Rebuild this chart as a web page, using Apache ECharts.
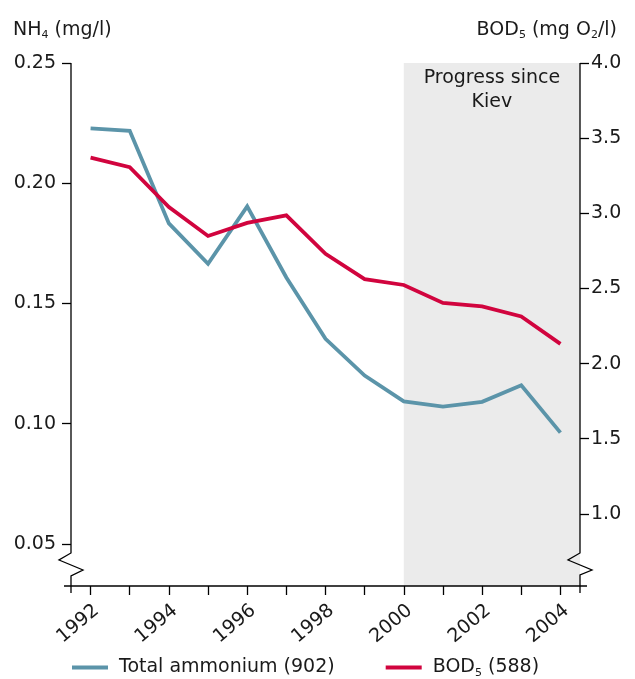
<!DOCTYPE html>
<html>
<head>
<meta charset="utf-8">
<style>
  html, body { margin: 0; padding: 0; background: #ffffff; }
  #chart { width: 635px; height: 679px; }
</style>
<script src="https://cdn.jsdelivr.net/npm/echarts@6/dist/echarts.min.js"></script>
</head>
<body>
<div id="chart"></div>
<script>
// Years observed
const years = [1992, 1993, 1994, 1995, 1996, 1997, 1998, 1999, 2000, 2001, 2002, 2003, 2004];
// Total ammonium, mg NH4/l (left axis)
const ammonium = [0.2228, 0.2218, 0.1833, 0.1665, 0.1904, 0.1608, 0.1353, 0.1200, 0.1093, 0.1071, 0.1091, 0.1160, 0.0963];
// BOD5, mg O2/l (right axis)
const bod5 = [3.370, 3.307, 3.041, 2.849, 2.936, 2.986, 2.730, 2.562, 2.523, 2.403, 2.380, 2.313, 2.131];
// Tick labels
const yearLabels = [1992, 1994, 1996, 1998, 2000, 2002, 2004];
const leftTicks = [0.05, 0.10, 0.15, 0.20, 0.25];
const rightTicks = [1.0, 1.5, 2.0, 2.5, 3.0, 3.5, 4.0];
const shadeStart = 2000;

const FONT = 'DejaVu Sans';
const FS = 19;
const BLUE = '#5b94a9';
const RED = '#d1043e';
const INK = '#1a1a1a';

// plot rectangle in page pixels
const G = { left: 71, top: 63, right: 580, bottom: 586 };

const chart = echarts.init(document.getElementById('chart'), null, { renderer: 'canvas' });

const pair = (vals) => years.map((y, i) => [y, vals[i]]);

const richText = {
  a: { fontFamily: FONT, fontSize: FS, fontWeight: 'normal', color: INK },
  s: { fontFamily: FONT, fontSize: 11, fontWeight: 'normal', color: INK, verticalAlign: 'bottom', padding: [11, 0, 0, 0] }
};

const option = {
  animation: false,
  backgroundColor: '#ffffff',
  textStyle: { fontFamily: FONT, color: INK },
  title: [
    {
      left: 8, top: 14,
      text: '{a|NH}{s|4}{a| (mg/l)}',
      textStyle: { fontWeight: 'normal', rich: richText }
    },
    {
      right: 13, top: 14,
      text: '{a|BOD}{s|5}{a| (mg O}{s|2}{a|/l)}',
      textStyle: { fontWeight: 'normal', rich: richText }
    }
  ],
  grid: { left: G.left, top: G.top, right: 635 - G.right, bottom: 679 - G.bottom, containLabel: false },
  legend: {
    left: 72, top: 658, padding: 0,
    itemWidth: 36, itemHeight: 4, itemGap: 51,
    icon: 'rect',
    data: ['Total ammonium (902)', 'BOD5 (588)'],
    formatter: (n) => n === 'BOD5 (588)' ? '{a|BOD}{s|5}{a| (588)}' : '{a|' + n + '}',
    textStyle: { padding: [0, 0, 0, 6], rich: richText }
  },
  xAxis: {
    type: 'value',
    min: 1991.5, max: 2004.5,
    axisLine: { show: false },
    splitLine: { show: false },
    axisTick: {
      show: true, length: 9, inside: false,
      customValues: years,
      lineStyle: { color: '#000', width: 1.3 }
    },
    axisLabel: {
      customValues: yearLabels,
      rotate: 40, margin: 15, verticalAlign: 'top',
      fontFamily: FONT, fontSize: FS, color: INK,
      formatter: (v) => String(v)
    }
  },
  yAxis: [
    {
      type: 'value', position: 'left',
      min: 0.0325, max: 0.25,
      axisLine: { show: false },
      splitLine: { show: false },
      axisTick: { show: true, length: 9, customValues: leftTicks, lineStyle: { color: '#000', width: 1.3 } },
      axisLabel: {
        customValues: leftTicks, margin: 15,
        fontFamily: FONT, fontSize: FS, color: INK,
        formatter: (v) => v.toFixed(2)
      }
    },
    {
      type: 'value', position: 'right',
      min: 0.52, max: 4.0,
      axisLine: { show: false },
      splitLine: { show: false },
      axisTick: { show: true, length: 9, customValues: rightTicks, lineStyle: { color: '#000', width: 1.3 } },
      axisLabel: {
        customValues: rightTicks, margin: 11,
        fontFamily: FONT, fontSize: FS, color: INK,
        formatter: (v) => v.toFixed(1)
      }
    }
  ],
  series: [
    {
      name: 'Total ammonium (902)',
      type: 'line',
      yAxisIndex: 0,
      data: pair(ammonium),
      showSymbol: false, symbol: 'none',
      lineStyle: { color: BLUE, width: 3.8, join: 'miter' },
      itemStyle: { color: BLUE },
      z: 3,
      markArea: {
        silent: true,
        itemStyle: { color: '#ebebeb' },
        label: {
          show: true, position: 'insideTop', distance: 3,
          fontFamily: FONT, fontSize: FS, color: INK, lineHeight: 24,
          align: 'center'
        },
        data: [[
          { name: 'Progress since\nKiev', xAxis: shadeStart, yAxis: 0.25 },
          { xAxis: 2004.5, yAxis: 0.0325 }
        ]]
      }
    },
    {
      name: 'BOD5 (588)',
      type: 'line',
      yAxisIndex: 1,
      data: pair(bod5),
      showSymbol: false, symbol: 'none',
      lineStyle: { color: RED, width: 3.8, join: 'miter' },
      itemStyle: { color: RED },
      z: 4
    }
  ],
  graphic: [
    // left axis with break mark
    {
      type: 'polyline', z: 100, silent: true,
      shape: { points: [[G.left, G.top], [G.left, 553], [59, 560], [83, 570], [G.left, 576], [G.left, G.bottom + 7]] },
      style: { stroke: '#000', lineWidth: 1.3, fill: null }
    },
    // right axis with break mark
    {
      type: 'polyline', z: 100, silent: true,
      shape: { points: [[G.right, G.top], [G.right, 553], [568, 560], [592, 570], [G.right, 575], [G.right, G.bottom + 7]] },
      style: { stroke: '#000', lineWidth: 1.3, fill: null }
    },
    // baseline
    {
      type: 'line', z: 100, silent: true,
      shape: { x1: G.left - 7, y1: G.bottom, x2: G.right + 7, y2: G.bottom },
      style: { stroke: '#000', lineWidth: 1.3 }
    }
  ]
};

chart.setOption(option);
</script>
</body>
</html>
